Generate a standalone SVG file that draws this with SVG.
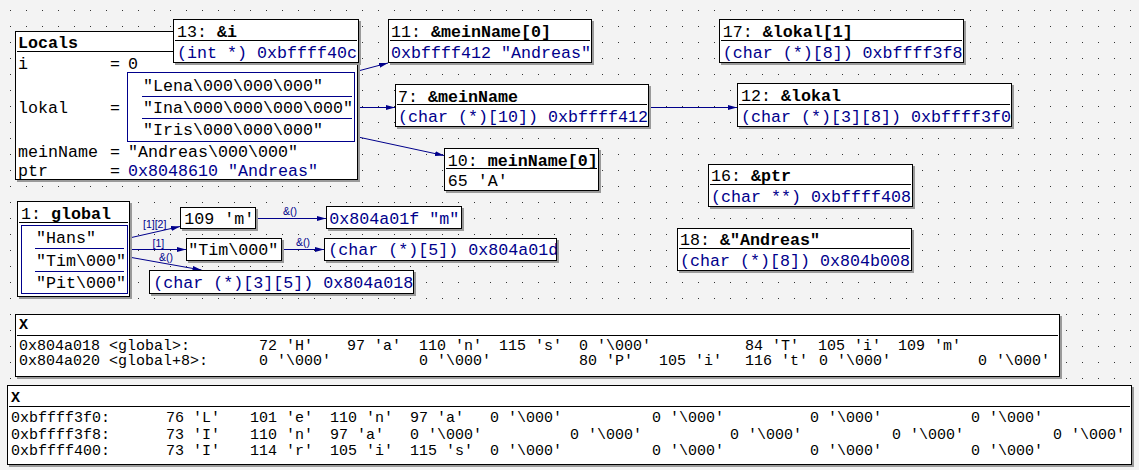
<svg xmlns="http://www.w3.org/2000/svg" width="1139" height="470" viewBox="0 0 1139 470">
<style>
.bg{fill:#f3f3f3}
.box{fill:#fff;stroke:#000;stroke-width:1;shape-rendering:crispEdges}
.ibox{fill:#fff;stroke:#00008b;stroke-width:1;shape-rendering:crispEdges}
.sh{fill:#9a9a9a;shape-rendering:crispEdges}
.sep{stroke:#000;stroke-width:1;shape-rendering:crispEdges}
.bsep{stroke:#00008b;stroke-width:1;shape-rendering:crispEdges}
.t{font-family:"Liberation Mono","DejaVu Sans Mono",monospace;font-size:16.67px;fill:#000}
.d{font-family:"Liberation Mono","DejaVu Sans Mono",monospace;font-size:15px;fill:#000}
.v{fill:#00008b}
.b{font-weight:bold}
.conn{stroke:#00008b;stroke-width:1;fill:none}
.lbl{font-family:"Liberation Sans",Arial,sans-serif;font-size:10.5px;fill:#00008b}
</style>
<defs>
<pattern id="grid" width="16" height="16" patternUnits="userSpaceOnUse"><rect x="10" y="10" width="1" height="1" fill="#333"/></pattern>
<marker id="arr" markerWidth="10" markerHeight="6" refX="9" refY="2.5" orient="auto" markerUnits="userSpaceOnUse"><path d="M0,0 L9,2.5 L0,5 Z" fill="#00008b"/></marker>
</defs>
<rect class="bg" x="0" y="0" width="1139" height="470"/>
<rect x="0" y="0" width="1139" height="470" fill="url(#grid)"/>

<g id="connectors">
<line class="conn" x1="358" y1="71" x2="388" y2="63" marker-end="url(#arr)"/>
<line class="conn" x1="358" y1="107.5" x2="395" y2="107.5" marker-end="url(#arr)"/>
<line class="conn" x1="358" y1="137" x2="444" y2="155.5" marker-end="url(#arr)"/>
<line class="conn" x1="649" y1="107.5" x2="737" y2="107.5" marker-end="url(#arr)"/>
<line class="conn" x1="131.5" y1="237.5" x2="180" y2="226.5" marker-end="url(#arr)"/>
<line class="conn" x1="131.5" y1="249.5" x2="186" y2="249.5" marker-end="url(#arr)"/>
<line class="conn" x1="131.5" y1="257.5" x2="201.5" y2="270" marker-end="url(#arr)"/>
<line class="conn" x1="256" y1="218.5" x2="326" y2="218.5" marker-end="url(#arr)"/>
<line class="conn" x1="282" y1="249.5" x2="324" y2="249.5" marker-end="url(#arr)"/>
<text class="lbl" x="143" y="227.5">[1][2]</text>
<text class="lbl" x="152.5" y="247">[1]</text>
<text class="lbl" x="159" y="260.5">&amp;()</text>
<text class="lbl" x="283" y="214.5">&amp;()</text>
<text class="lbl" x="296" y="246">&amp;()</text>
</g>

<g id="locals">
<rect class="sh" x="17" y="33" width="343" height="149"/>
<rect class="box" x="15.5" y="31.5" width="342" height="148"/>
<text class="t b" x="18" y="48">Locals</text>
<line class="sep" x1="17" y1="51.5" x2="356" y2="51.5"/>
<text class="t" x="18" y="68.5">i</text><text class="t" x="110" y="68.5">=</text><text class="t" x="128" y="68.5">0</text>
<text class="t" x="18" y="113">lokal</text><text class="t" x="110" y="113">=</text>
<rect class="ibox" x="127.5" y="72.5" width="227" height="69"/>
<text class="t" x="143" y="90.7">"Lena\000\000\000"</text>
<line class="bsep" x1="142" y1="96" x2="352" y2="96"/>
<text class="t" x="143" y="113.3">"Ina\000\000\000\000"</text>
<line class="bsep" x1="142" y1="118.5" x2="352" y2="118.5"/>
<text class="t" x="143" y="135">"Iris\000\000\000"</text>
<text class="t" x="18" y="157.3">meinName</text><text class="t" x="110" y="157.3">=</text><text class="t" x="128" y="157.3">"Andreas\000\000"</text>
<text class="t" x="18" y="175.5">ptr</text><text class="t" x="110" y="175.5">=</text><text class="t v" x="128" y="175.5">0x8048610 "Andreas"</text>
</g>

<g id="n13">
<rect class="sh" x="175" y="21" width="186" height="44"/>
<rect class="box" x="173.5" y="19.5" width="185" height="43"/>
<text class="t" x="177" y="37.3">13: <tspan class="b">&amp;i</tspan></text>
<line class="sep" x1="175" y1="40.5" x2="357" y2="40.5"/>
<text class="t v" x="177" y="57.7">(int *) 0xbffff40c</text>
</g>

<g id="n11">
<rect class="sh" x="390" y="21" width="204" height="44"/>
<rect class="box" x="388.5" y="19.5" width="203" height="43"/>
<text class="t" x="391" y="37.3">11: <tspan class="b">&amp;meinName[0]</tspan></text>
<line class="sep" x1="390" y1="40.5" x2="590" y2="40.5"/>
<text class="t v" x="391" y="57.7">0xbffff412 "Andreas"</text>
</g>

<g id="n7">
<rect class="sh" x="397" y="86" width="254" height="43"/>
<rect class="box" x="395.5" y="84.5" width="253" height="42"/>
<text class="t" x="398" y="101.7">7: <tspan class="b">&amp;meinName</tspan></text>
<line class="sep" x1="397" y1="104.5" x2="647" y2="104.5"/>
<text class="t v" x="398" y="121.7">(char (*)[10]) 0xbffff412</text>
</g>

<g id="n10">
<rect class="sh" x="446" y="150" width="155" height="43"/>
<rect class="box" x="444.5" y="148.5" width="154" height="42"/>
<text class="t" x="447.7" y="165.7">10: <tspan class="b">meinName[0]</tspan></text>
<line class="sep" x1="446" y1="168.5" x2="597" y2="168.5"/>
<text class="t" x="447.7" y="186">65 'A'</text>
</g>

<g id="n17">
<rect class="sh" x="721" y="21" width="245" height="44"/>
<rect class="box" x="719.5" y="19.5" width="244" height="43"/>
<text class="t" x="722.7" y="37.3">17: <tspan class="b">&amp;lokal[1]</tspan></text>
<line class="sep" x1="721" y1="40.5" x2="962" y2="40.5"/>
<text class="t v" x="722.7" y="57.7">(char (*)[8]) 0xbffff3f8</text>
</g>

<g id="n12">
<rect class="sh" x="739" y="85" width="275" height="44"/>
<rect class="box" x="737.5" y="83.5" width="274" height="43"/>
<text class="t" x="741" y="101">12: <tspan class="b">&amp;lokal</tspan></text>
<line class="sep" x1="739" y1="104.5" x2="1010" y2="104.5"/>
<text class="t v" x="741" y="122">(char (*)[3][8]) 0xbffff3f0</text>
</g>

<g id="n16">
<rect class="sh" x="710" y="166" width="205" height="43"/>
<rect class="box" x="708.5" y="164.5" width="204" height="42"/>
<text class="t" x="711" y="181">16: <tspan class="b">&amp;ptr</tspan></text>
<line class="sep" x1="710" y1="184.5" x2="911" y2="184.5"/>
<text class="t v" x="711" y="201.7">(char **) 0xbffff408</text>
</g>

<g id="n18">
<rect class="sh" x="679" y="230" width="235" height="43"/>
<rect class="box" x="677.5" y="228.5" width="234" height="42"/>
<text class="t" x="680" y="245">18: <tspan class="b">&amp;"Andreas"</tspan></text>
<line class="sep" x1="679" y1="248.5" x2="910" y2="248.5"/>
<text class="t v" x="680" y="265.7">(char (*)[8]) 0x804b008</text>
</g>

<g id="n1">
<rect class="sh" x="19" y="203" width="113" height="96"/>
<rect class="box" x="17.5" y="201.5" width="112" height="95"/>
<text class="t" x="21" y="219.3">1: <tspan class="b">global</tspan></text>
<line class="sep" x1="19" y1="222.5" x2="128" y2="222.5"/>
<rect class="ibox" x="21.5" y="225.5" width="106" height="68"/>
<text class="t" x="36" y="243">"Hans"</text>
<line class="bsep" x1="35" y1="248.5" x2="124" y2="248.5"/>
<text class="t" x="36" y="265.7">"Tim\000"</text>
<line class="bsep" x1="35" y1="271.5" x2="124" y2="271.5"/>
<text class="t" x="36" y="288.3">"Pit\000"</text>
</g>

<g id="n109">
<rect class="sh" x="182" y="209" width="76" height="22"/>
<rect class="box" x="180.5" y="207.5" width="75" height="21"/>
<text class="t" x="184.3" y="224.3">109 'm'</text>
</g>

<g id="nTim">
<rect class="sh" x="188" y="240" width="96" height="23"/>
<rect class="box" x="186.5" y="238.5" width="95" height="22"/>
<text class="t" x="188.3" y="255">"Tim\000"</text>
</g>

<g id="nArr35">
<rect class="sh" x="151" y="272" width="265" height="24"/>
<rect class="box" x="149.5" y="270.5" width="264" height="23"/>
<text class="t v" x="153.3" y="288">(char (*)[3][5]) 0x804a018</text>
</g>

<g id="nM">
<rect class="sh" x="328" y="208" width="136" height="23"/>
<rect class="box" x="326.5" y="206.5" width="135" height="22"/>
<text class="t v" x="329.3" y="223.7">0x804a01f "m"</text>
</g>

<g id="nArr5">
<rect class="sh" x="326" y="240" width="233" height="23"/>
<rect class="box" x="324.5" y="238.5" width="232" height="22"/>
<text class="t v" x="328.3" y="255">(char (*)[5]) 0x804a01d</text>
</g>

<g id="dump1">
<rect class="sh" x="17" y="316" width="1045" height="63"/>
<rect class="box" x="15.5" y="314.5" width="1044" height="62"/>
<text class="d b" x="19" y="329">X</text>
<line class="sep" x1="17" y1="335.5" x2="1058" y2="335.5"/>
<text class="d" y="350"><tspan x="19">0x804a018</tspan><tspan x="109">&lt;global&gt;:</tspan><tspan x="259">72 'H'</tspan><tspan x="347">97 'a'</tspan><tspan x="419">110 'n'</tspan><tspan x="499">115 's'</tspan><tspan x="579">0 '\000'</tspan><tspan x="745">84 'T'</tspan><tspan x="818">105 'i'</tspan><tspan x="898">109 'm'</tspan></text>
<text class="d" y="365"><tspan x="19">0x804a020</tspan><tspan x="109">&lt;global+8&gt;:</tspan><tspan x="259">0 '\000'</tspan><tspan x="419">0 '\000'</tspan><tspan x="579">80 'P'</tspan><tspan x="659">105 'i'</tspan><tspan x="745">116 't'</tspan><tspan x="819">0 '\000'</tspan><tspan x="978">0 '\000'</tspan></text>
</g>

<g id="dump2">
<rect class="sh" x="9" y="387" width="1125" height="80"/>
<rect class="box" x="7.5" y="385.5" width="1124" height="79"/>
<text class="d b" x="11" y="401.7">X</text>
<line class="sep" x1="9" y1="406.5" x2="1130" y2="406.5"/>
<text class="d" y="422.3"><tspan x="11">0xbffff3f0:</tspan><tspan x="166">76 'L'</tspan><tspan x="250">101 'e'</tspan><tspan x="330">110 'n'</tspan><tspan x="410">97 'a'</tspan><tspan x="490">0 '\000'</tspan><tspan x="652">0 '\000'</tspan><tspan x="810">0 '\000'</tspan><tspan x="971">0 '\000'</tspan></text>
<text class="d" y="439.3"><tspan x="11">0xbffff3f8:</tspan><tspan x="166">73 'I'</tspan><tspan x="250">110 'n'</tspan><tspan x="330">97 'a'</tspan><tspan x="410">0 '\000'</tspan><tspan x="570">0 '\000'</tspan><tspan x="730">0 '\000'</tspan><tspan x="892">0 '\000'</tspan><tspan x="1053">0 '\000'</tspan></text>
<text class="d" y="455"><tspan x="11">0xbffff400:</tspan><tspan x="166">73 'I'</tspan><tspan x="250">114 'r'</tspan><tspan x="330">105 'i'</tspan><tspan x="410">115 's'</tspan><tspan x="490">0 '\000'</tspan><tspan x="652">0 '\000'</tspan><tspan x="810">0 '\000'</tspan><tspan x="971">0 '\000'</tspan></text>
</g>
</svg>
